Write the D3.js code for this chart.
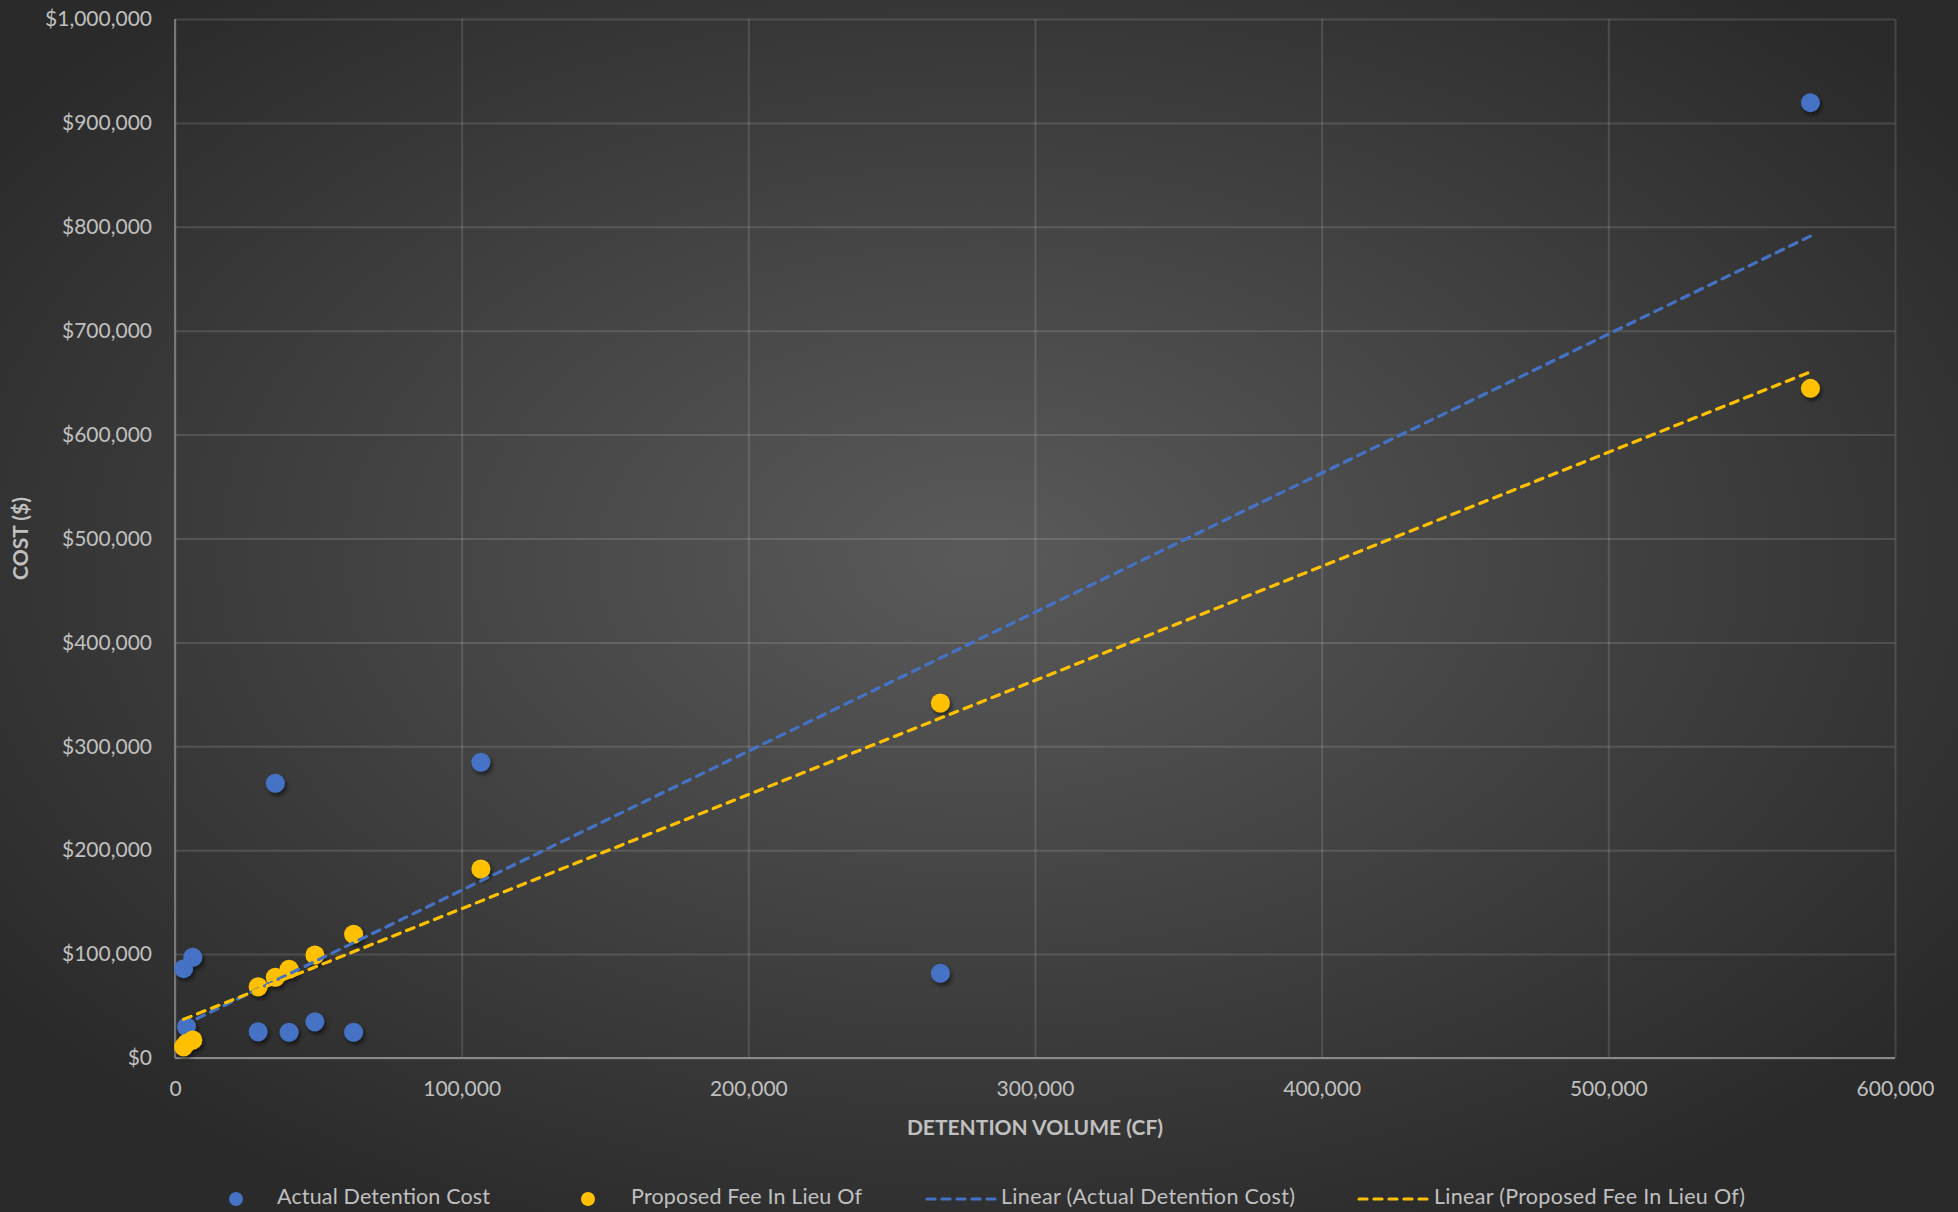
<!DOCTYPE html>
<html>
<head>
<meta charset="utf-8">
<script src="https://cdn.jsdelivr.net/npm/d3@7"></script>
<style>
  html, body { margin: 0; padding: 0; background: #2b2b2b; }
  svg { display: block; }
  text { font-family: Lato, "Open Sans", sans-serif; }
</style>
</head>
<body>
<svg id="chart" width="1958" height="1212"></svg>
<script>
// Detention volume (cubic feet) for each project
const volume = [3000, 4000, 6200, 29000, 35000, 39800, 48800, 62300, 106700, 267000, 570500];
// Actual detention cost ($) per project
const actualCost = [86000, 30000, 97000, 25300, 264400, 24700, 34900, 24700, 284600, 81500, 919500];
// Proposed fee in lieu of detention ($) per project
const proposedFee = [10900, 14100, 17300, 68600, 77700, 85400, 99100, 119100, 181900, 341700, 644500];

const xTicks = [0, 100000, 200000, 300000, 400000, 500000, 600000];
const yTicks = [0, 100000, 200000, 300000, 400000, 500000, 600000, 700000, 800000, 900000, 1000000];

const seriesNames = ["Actual Detention Cost", "Proposed Fee In Lieu Of"];
const trendNames = ["Linear (Actual Detention Cost)", "Linear (Proposed Fee In Lieu Of)"];
const colors = ["#4472C4", "#FFC000"];

const W = 1958, H = 1212;
const plot = { left: 175, right: 1895, top: 19, bottom: 1058 };

const svg = d3.select("#chart");
const defs = svg.append("defs");

// Dark backdrop, lighter toward the middle
const bg = defs.append("radialGradient").attr("id", "bg")
  .attr("cx", "50%").attr("cy", "46%").attr("r", "62%");
bg.append("stop").attr("offset", "0%").attr("stop-color", "#5a5a5a");
bg.append("stop").attr("offset", "100%").attr("stop-color", "#2a2a2a");
svg.append("rect").attr("width", W).attr("height", H).attr("fill", "url(#bg)");

// Soft shadow under markers
const shadow = defs.append("filter").attr("id", "shadow")
  .attr("x", "-50%").attr("y", "-50%").attr("width", "200%").attr("height", "200%");
shadow.append("feDropShadow").attr("dx", 2).attr("dy", 3)
  .attr("stdDeviation", 2).attr("flood-color", "#000").attr("flood-opacity", 0.55);

const x = d3.scaleLinear().domain([0, 600000]).range([plot.left, plot.right]);
const y = d3.scaleLinear().domain([0, 1000000]).range([plot.bottom, plot.top]);

const fmtX = d3.format(",");
const fmtY = v => "$" + d3.format(",")(v);

// Gridlines
const gridY = d3.axisLeft(y).tickValues(yTicks).tickSize(-(plot.right - plot.left)).tickFormat("");
svg.append("g").attr("transform", `translate(${plot.left},0)`).call(gridY)
  .call(g => g.select(".domain").remove())
  .call(g => g.selectAll("line").attr("stroke", "rgba(255,255,255,0.13)").attr("stroke-width", 2));
const gridX = d3.axisBottom(x).tickValues(xTicks).tickSize(-(plot.bottom - plot.top)).tickFormat("");
svg.append("g").attr("transform", `translate(0,${plot.bottom})`).call(gridX)
  .call(g => g.select(".domain").remove())
  .call(g => g.selectAll("line").attr("stroke", "rgba(255,255,255,0.13)").attr("stroke-width", 2));

// Axis lines
svg.append("line").attr("x1", x(0)).attr("x2", x(0)).attr("y1", y(1000000)).attr("y2", y(0))
  .attr("stroke", "#8a8a8a").attr("stroke-width", 1.5);
svg.append("line").attr("x1", x(0)).attr("x2", x(600000)).attr("y1", y(0)).attr("y2", y(0))
  .attr("stroke", "#8a8a8a").attr("stroke-width", 2);

// Tick labels
const yAxis = d3.axisLeft(y).tickValues(yTicks).tickFormat(fmtY).tickSize(0).tickPadding(23);
svg.append("g").attr("transform", `translate(${plot.left},0)`).call(yAxis)
  .call(g => g.select(".domain").remove())
  .call(g => g.selectAll("text").attr("fill", "#c0c0c0").attr("font-size", 21)
    .attr("font-family", "Lato, sans-serif"));
const xAxis = d3.axisBottom(x).tickValues(xTicks).tickFormat(fmtX).tickSize(0).tickPadding(23);
svg.append("g").attr("transform", `translate(0,${plot.bottom})`).call(xAxis)
  .call(g => g.select(".domain").remove())
  .call(g => g.selectAll("text").attr("fill", "#c0c0c0").attr("font-size", 21)
    .attr("font-family", "Lato, sans-serif"));

// Axis titles
svg.append("text").attr("x", (plot.left + plot.right) / 2).attr("y", 1130)
  .attr("text-anchor", "middle").attr("dominant-baseline", "middle")
  .attr("fill", "#c0c0c0").attr("font-size", 21).attr("font-weight", "bold")
  .text("DETENTION VOLUME (CF)");
svg.append("text")
  .attr("transform", `translate(23,${(plot.top + plot.bottom) / 2}) rotate(-90)`)
  .attr("text-anchor", "middle").attr("dominant-baseline", "middle")
  .attr("fill", "#c0c0c0").attr("font-size", 21).attr("font-weight", "bold")
  .text("COST ($)");

// Least-squares trendline over the data range
function linearFit(xs, ys) {
  const mx = d3.mean(xs), my = d3.mean(ys);
  let sxy = 0, sxx = 0;
  xs.forEach((v, i) => { sxy += (v - mx) * (ys[i] - my); sxx += (v - mx) * (v - mx); });
  const slope = sxy / sxx;
  return { slope, intercept: my - slope * mx };
}

const series = [actualCost, proposedFee];
const xMin = d3.min(volume), xMax = d3.max(volume);
const line = d3.line().x(d => x(d[0])).y(d => y(d[1]));

// Markers (actual cost first, then proposed fee on top)
series.forEach((vals, si) => {
  svg.append("g").attr("filter", "url(#shadow)")
    .selectAll("circle").data(volume.map((v, i) => [v, vals[i]])).join("circle")
    .attr("cx", d => x(d[0])).attr("cy", d => y(d[1])).attr("r", 9.5)
    .attr("fill", colors[si]);
});

// Trendlines drawn above the markers
series.forEach((vals, si) => {
  const fit = linearFit(volume, vals);
  const pts = [xMin, xMax].map(v => [v, fit.intercept + fit.slope * v]);
  svg.append("path").attr("d", line(pts)).attr("fill", "none")
    .attr("stroke", colors[si]).attr("stroke-width", 3.2)
    .attr("stroke-dasharray", "8,7").attr("stroke-linecap", "round");
});

// Legend
const legendY = 1199;
const legend = svg.append("g").attr("font-size", 21.5).attr("fill", "#c0c0c0");
const markerItems = [{ cx: 236, tx: 277 }, { cx: 588, tx: 631 }];
markerItems.forEach((m, i) => {
  legend.append("circle").attr("cx", m.cx).attr("cy", legendY).attr("r", 7).attr("fill", colors[i]);
  legend.append("text").attr("x", m.tx).attr("y", legendY).attr("dominant-baseline", "middle")
    .attr("fill", "#c0c0c0").attr("textLength", i === 0 ? 213 : 231).text(seriesNames[i]);
});
const lineItems = [{ x1: 927, x2: 995, tx: 1001, len: 294 }, { x1: 1359, x2: 1427, tx: 1434, len: 311 }];
lineItems.forEach((m, i) => {
  legend.append("line").attr("x1", m.x1).attr("x2", m.x2).attr("y1", legendY).attr("y2", legendY)
    .attr("stroke", colors[i]).attr("stroke-width", 3.2)
    .attr("stroke-dasharray", "8,7").attr("stroke-linecap", "round");
  legend.append("text").attr("x", m.tx).attr("y", legendY).attr("dominant-baseline", "middle")
    .attr("fill", "#c0c0c0").attr("textLength", m.len).text(trendNames[i]);
});
</script>
</body>
</html>
